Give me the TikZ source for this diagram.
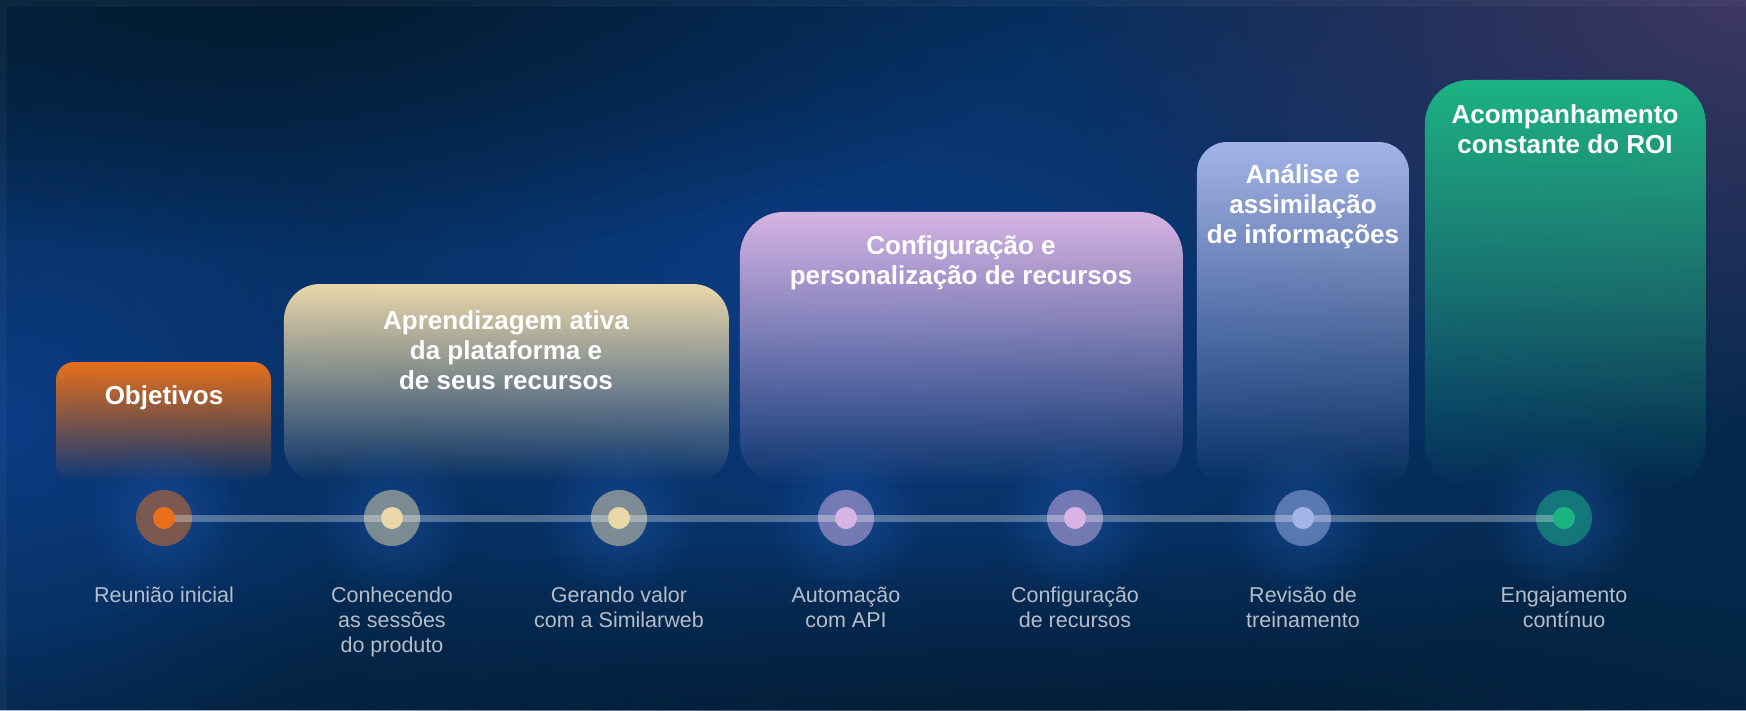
\documentclass[tikz,border=0pt]{standalone}
\usepackage{fontspec}
\setmainfont{Liberation Sans}
\usetikzlibrary{fadings,positioning}

\definecolor{bgnavy}{HTML}{04284A}
\definecolor{bgblue}{HTML}{0C3C86}
\definecolor{bgpurple}{HTML}{3D3763}
\definecolor{bgdark}{HTML}{021B31}
\definecolor{haloblue}{HTML}{2563C4}
\definecolor{steporange}{HTML}{E8701A}
\definecolor{stepcream}{HTML}{EAD8A9}
\definecolor{steplilac}{HTML}{D7B4E4}
\definecolor{stepblue}{HTML}{A4B4E8}
\definecolor{stepgreen}{HTML}{1CB383}
\definecolor{labelgray}{HTML}{B6BCC8}

\tikzfading[name=box fade, top color=transparent!0, middle color=transparent!8, bottom color=transparent!100]
\tikzfading[name=soft glow, inner color=transparent!0, outer color=transparent!100]

\tikzset{
  stagebox/.style={path fading=box fade},
  stagetitle/.style={anchor=north, inner sep=0pt, align=center, text=white,
    font=\bfseries\fontsize{26}{30}\selectfont},
  steplabel/.style={anchor=north, inner sep=0pt, align=center, text=labelgray,
    font=\fontsize{21.5}{25}\selectfont},
  dotring/.style={circle, minimum size=56pt, inner sep=0pt, fill opacity=0.5},
  dotcore/.style={circle, minimum size=22pt, inner sep=0pt},
  timeline/.style={line width=7pt, draw=white, draw opacity=0.3}
}

\begin{document}
\begin{tikzpicture}[x=1pt, y=-1pt]
\useasboundingbox (0,0) rectangle (1746,710);

% background
\fill[bgnavy] (0,0) rectangle (1746,710);
\fill[bgblue, path fading=soft glow] (850,300) ellipse (950 and 460);
\fill[bgblue, path fading=soft glow] (0,420) ellipse (420 and 380);
\fill[bgpurple, path fading=soft glow] (1746,0) ellipse (700 and 440);
\fill[bgdark, path fading=soft glow] (300,0) ellipse (750 and 260);
\fill[bgdark, path fading=soft glow] (1000,770) ellipse (1200 and 230);
\fill[white, fill opacity=0.04] (0,0) rectangle (1746,7);
\fill[white, fill opacity=0.04] (0,7) rectangle (7,710);

% stages
\fill[steporange, stagebox, rounded corners=18pt] (56,362) rectangle (271,482);
\fill[stepcream, stagebox, rounded corners=36pt] (284,284) rectangle (729,482);
\fill[steplilac, stagebox, rounded corners=44pt] (740,212) rectangle (1183,485);
\fill[stepblue, stagebox, rounded corners=30pt] (1197,142) rectangle (1409,485);
\fill[stepgreen, stagebox, rounded corners=44pt] (1425,80) rectangle (1706,488);

\node[stagetitle] (t1) at (164,385) {Objetivos};
\node[stagetitle] (t2) at (506,310) {Aprendizagem ativa\\da plataforma e\\de seus recursos};
\node[stagetitle] (t3) at (961,235) {Configuração e\\personalização de recursos};
\node[stagetitle] (t4) at (1303,164) {Análise e\\assimilação\\de informações};
\node[stagetitle] (t5) at (1565,104) {Acompanhamento\\constante do ROI};

% timeline
\foreach \n/\x in {1/164, 2/392, 3/619, 4/846, 5/1075, 6/1303, 7/1564}
  \coordinate (p\n) at (\x,518);
\foreach \n in {1,...,7}
  \fill[haloblue, path fading=soft glow, fill opacity=0.4] (p\n) circle (80);

\foreach \n/\c in {1/steporange, 2/stepcream, 3/stepcream, 4/steplilac, 5/steplilac, 6/stepblue, 7/stepgreen}
  \node[dotring, fill=\c] (m\n) at (p\n) {};
\draw[timeline] (m1.center) -- (m7.center);
\foreach \n/\c in {1/steporange, 2/stepcream, 3/stepcream, 4/steplilac, 5/steplilac, 6/stepblue, 7/stepgreen}
  \node[dotcore, fill=\c] (d\n) at (p\n) {};

\node[steplabel, below=41pt of m1] (l1) {Reunião inicial};
\node[steplabel, below=41pt of m2] (l2) {Conhecendo\\as sessões\\do produto};
\node[steplabel, below=41pt of m3] (l3) {Gerando valor\\com a Similarweb};
\node[steplabel, below=41pt of m4] (l4) {Automação\\com API};
\node[steplabel, below=41pt of m5] (l5) {Configuração\\de recursos};
\node[steplabel, below=41pt of m6] (l6) {Revisão de\\treinamento};
\node[steplabel, below=41pt of m7] (l7) {Engajamento\\contínuo};
\end{tikzpicture}
\end{document}
